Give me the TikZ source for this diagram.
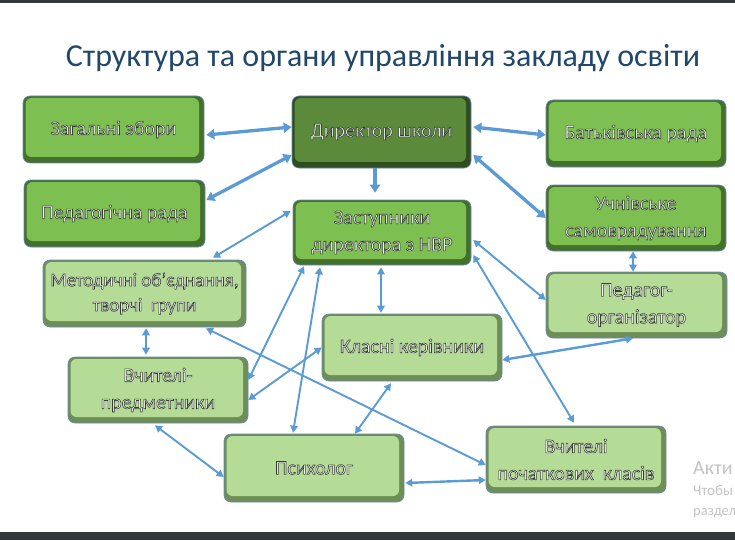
\documentclass[tikz,border=0pt]{standalone}
\usepackage{fontspec}
\setmainfont{Carlito}
\usetikzlibrary{arrows.meta,calc}
\definecolor{arr}{HTML}{5B9BD5}
\definecolor{bord}{HTML}{6A88B8}
\definecolor{ttl}{HTML}{21476B}
\definecolor{txt}{HTML}{F8F8F8}
\definecolor{darkface}{HTML}{5A8A3A}
\definecolor{darkedge}{HTML}{2F4D1F}
\definecolor{medface}{HTML}{7DBF50}
\definecolor{mededge}{HTML}{44702B}
\definecolor{ltface}{HTML}{B4DC96}
\definecolor{ltedge}{HTML}{6E8E58}
\definecolor{band}{HTML}{34373A}
\definecolor{wm}{HTML}{C4C4C4}
\newcommand\ot[1]{{\special{pdf:code q 2 Tr 0.6 w 0.22 0.24 0.22 RG}#1\special{pdf:code Q}}}
\tikzset{
  box/.style={rectangle, rounded corners=7pt, draw=bord, line width=0.6pt,
    fill=#1edge, minimum width=180pt, minimum height=67pt, inner sep=2pt,
    align=center, text=txt, font=\fontsize{20}{27}\selectfont,
    path picture={\fill[#1face, rounded corners=6pt]
      ($(path picture bounding box.south west)+(2.5pt,6pt)$) rectangle
      ($(path picture bounding box.north east)+(-5pt,-2pt)$);}},
  thk/.style={draw=arr, line width=3.3pt,
    {Triangle[width=10pt,length=8pt]}-{Triangle[width=10pt,length=8pt]}},
  thn/.style={draw=arr, line width=1.9pt,
    {Triangle[width=7.5pt,length=7pt]}-{Triangle[width=7.5pt,length=7pt]}},
  wmk/.style={text=wm, inner sep=0pt, anchor=base west},
}
\begin{document}
\begin{tikzpicture}[x=1pt,y=-1pt]
\useasboundingbox (0,0) rectangle (735,540);
\fill[white] (0,0) rectangle (735,540);
\fill[band] (0,0) rectangle (735,3);
\fill[band] (0,532) rectangle (735,540);

\node[text=ttl, font=\fontsize{32}{38}\selectfont, anchor=base, inner sep=0pt] (title) at (383,67) {Структура та органи управління закладу освіти};

\node[box=med, minimum width=181pt] (zag) at (113.5,129.5) {\ot{Загальні збори}};
\node[box=med, minimum width=181pt] (ped) at (114.5,213.5) {\ot{Педагогічна рада}};
\node[box=dark, minimum width=179pt, minimum height=72pt] (dir) at (381.5,132) {\ot{Директор школи}};
\node[box=med] (bat) at (636,133.5) {\ot{Батьківська рада}};
\node[box=med, minimum height=66pt] (uch) at (636,218) {\ot{Учнівське}\\\ot{самоврядування}};
\node[box=med, minimum width=178pt, minimum height=65pt] (zas) at (382,232.5) {\ot{Заступники}\\\ot{директора з НВР}};
\node[box=lt, minimum width=203pt, font=\fontsize{19}{25}\selectfont] (met) at (144.5,293.5) {\ot{Методичні об’єднання,}\\\ot{творчі\ \ групи}};
\node[box=lt, minimum width=181pt, minimum height=66pt] (porg) at (636.5,305) {\ot{Педагог-}\\\ot{організатор}};
\node[box=lt] (kl) at (412,347.5) {\ot{Класні керівники}};
\node[box=lt, minimum height=66pt] (vp) at (158,390) {\ot{Вчителі-}\\\ot{предметники}};
\node[box=lt, minimum height=68pt] (ps) at (314,468) {\ot{Психолог}};
\node[box=lt] (vpk) at (576,459.5) {\ot{Вчителі}\\\ot{початкових\ \ класів}};

\draw[thk] ([xshift=2pt,yshift=-5.5pt]zag.east) -- ([yshift=5pt]dir.west);
\draw[thk] ([xshift=1pt,yshift=13.5pt]ped.east) -- ([yshift=-23pt]dir.west);
\draw[draw=arr, line width=3.3pt, -{Triangle[width=10pt,length=8pt]}] ([xshift=-6.5pt]dir.south) -- ([xshift=-7pt,yshift=7pt]zas.north);
\draw[thk] ([xshift=2pt,yshift=5pt]dir.east) -- ([yshift=-1.5pt]bat.west);
\draw[thk] ([xshift=2pt,yshift=-23pt]dir.east) -- (uch.west);

\draw[thn] ([xshift=-2pt,yshift=21.5pt]zas.west) -- ([xshift=68.5pt,yshift=2pt]met.north);
\draw[thn] ([xshift=-78pt,yshift=-1pt]zas.south) -- ([yshift=10pt]vp.east);
\draw[thn] ([xshift=-62pt,yshift=-2pt]zas.south) -- ([xshift=-21pt,yshift=1pt]ps.north);
\draw[thn] ([xshift=-1pt,yshift=-2pt]zas.south) -- ([xshift=-31pt,yshift=1pt]kl.north);
\draw[thn] ([xshift=2pt,yshift=-7.5pt]zas.east) -- ([yshift=5pt]porg.west);
\draw[thn] ([xshift=2pt,yshift=-22.5pt]zas.east) -- ([xshift=-2pt,yshift=3pt]vpk.north);
\draw[thn] ([xshift=1.5pt,yshift=-1pt]met.south) -- ([xshift=-12pt,yshift=2pt]vp.north);
\draw[thn] ([xshift=61.5pt,yshift=-1pt]met.south) -- ([yshift=-5.5pt]vpk.west);
\draw[thn] (kl.west) -- ([yshift=-10pt]vp.east);
\draw[thn] ([xshift=-21pt,yshift=-2pt]kl.south) -- ([xshift=41pt]ps.north);
\draw[thn, line width=2.4pt] ([yshift=-12.5pt]kl.east) -- ([xshift=-3.5pt]porg.south);
\draw[thn] ([xshift=-3pt,yshift=-2pt]vp.south) -- ([yshift=-9pt]ps.west);
\draw[thn, line width=2.4pt] ([xshift=1pt,yshift=-15pt]ps.east) -- ([yshift=-20.5pt]vpk.west);
\draw[thn] ([xshift=-3pt]uch.south) -- ([xshift=-3.5pt]porg.north);

\node[wmk, font=\fontsize{20}{22}\selectfont] (wm1) at (693,474) {Акти};
\node[wmk, font=\fontsize{15}{17}\selectfont] (wm2) at (693,495) {Чтобы};
\node[wmk, font=\fontsize{14.5}{17}\selectfont] (wm3) at (693,515) {раздел};
\end{tikzpicture}
\end{document}
